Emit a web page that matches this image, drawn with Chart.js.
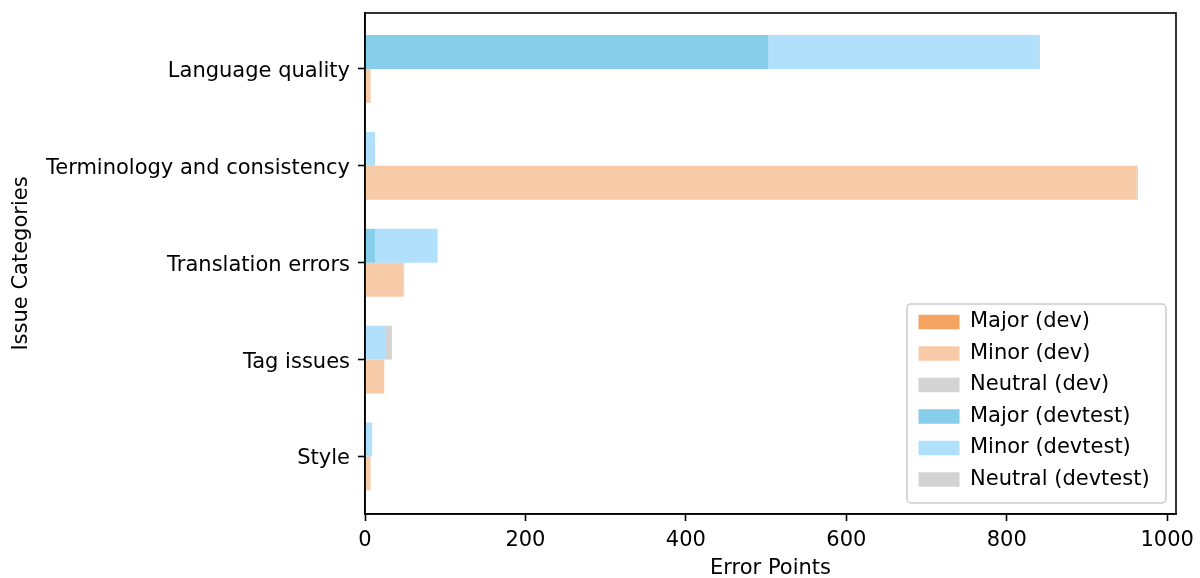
<!DOCTYPE html>
<html>
<head>
<meta charset="utf-8">
<script src="https://cdn.jsdelivr.net/npm/chart.js@4"></script>
<style>
  body { margin: 0; background: #fff; }
</style>
</head>
<body>
<canvas id="myChart" width="1200" height="578"></canvas>
<script>
// categories, top to bottom
const categories = ['Language quality', 'Terminology and consistency', 'Translation errors', 'Tag issues', 'Style'];

// error points per category
const devMajor = [0, 0, 0, 0, 0];
const devMinor = [7, 962, 48, 24, 7];
const devNeutral = [0, 1.5, 1, 0, 0];
const devtestMajor = [503, 0, 12.5, 0, 0];
const devtestMinor = [337, 12.5, 78, 26, 9];
const devtestNeutral = [1.5, 0, 0, 7.5, 0];

const xTicks = [0, 200, 400, 600, 800, 1000];

const FONT = 21;
Chart.defaults.font.family = "'DejaVu Sans', sans-serif";
Chart.defaults.font.size = FONT;
Chart.defaults.color = '#000';

const points = vals => vals.map((v, i) => ({ x: v, y: i }));

const series = (label, vals, color, stack) => ({
  label: label,
  data: points(vals),
  backgroundColor: color,
  borderWidth: 0,
  stack: stack
});

// devtest first so its bars sit above the dev bars
const datasets = [
  series('Major (devtest)', devtestMajor, '#87CEEB', 'devtest'),
  series('Minor (devtest)', devtestMinor, '#B1E0FD', 'devtest'),
  series('Neutral (devtest)', devtestNeutral, '#D3D3D3', 'devtest'),
  series('Major (dev)', devMajor, '#F4A460', 'dev'),
  series('Minor (dev)', devMinor, '#F7CBA7', 'dev'),
  series('Neutral (dev)', devNeutral, '#D3D3D3', 'dev')
];

// box around the plot and the legend frame
const framePlugin = {
  id: 'frame',
  afterLayout(chart) {
    const lg = chart.legend;
    lg.left = 908;
    lg.top = 301;
    lg.bottom = 570;
  },
  beforeDraw(chart) {
    const ctx = chart.ctx;
    const lg = chart.legend;
    const x = lg.left - 1, y = lg.top + 3, w = 259, h = 199;
    ctx.save();
    ctx.fillStyle = 'rgba(255,255,255,0.8)';
    ctx.strokeStyle = '#cccccc';
    ctx.lineWidth = 1.5;
    ctx.beginPath();
    ctx.roundRect(x, y, w, h, 4);
    ctx.fill();
    ctx.stroke();
    ctx.restore();
  },
  afterDatasetsDraw(chart) {
    const { ctx, chartArea: a } = chart;
    ctx.save();
    ctx.strokeStyle = '#000';
    ctx.lineWidth = 1.6;
    ctx.strokeRect(a.left, a.top, a.right - a.left, a.bottom - a.top);
    ctx.restore();
  }
};

new Chart(document.getElementById('myChart'), {
  type: 'bar',
  data: { datasets: datasets },
  plugins: [framePlugin],
  options: {
    indexAxis: 'y',
    responsive: false,
    animation: false,
    categoryPercentage: 0.7,
    barPercentage: 1,
    layout: { padding: { top: 13, right: 24, bottom: 0, left: 0 } },
    plugins: {
      tooltip: { enabled: false },
      legend: {
        position: 'chartArea',
        align: 'start',
        labels: {
          boxWidth: 41,
          boxHeight: 14.5,
          padding: 10.5,
          color: '#000',
          font: { size: FONT },
          sort: (a, b) => ((a.datasetIndex + 3) % 6) - ((b.datasetIndex + 3) % 6)
        }
      }
    },
    scales: {
      x: {
        type: 'linear',
        stacked: true,
        min: 0,
        max: 1011,
        afterFit: s => { s.height = 64; s.paddingLeft = 0; s.paddingRight = 0; },
        afterBuildTicks: s => { s.ticks = xTicks.map(v => ({ value: v })); },
        ticks: { padding: 7, color: '#000', maxRotation: 0, callback: v => String(v) },
        grid: { drawOnChartArea: false, tickLength: 7, tickWidth: 1.6, tickColor: '#000' },
        border: { display: true, color: '#000', width: 1.6 },
        title: { display: true, text: 'Error Points', color: '#000', padding: { top: 0, bottom: -3 } }
      },
      y: {
        type: 'linear',
        reverse: true,
        stacked: true,
        offset: false,
        min: -0.578,
        max: 4.594,
        afterFit: s => { s.width = 365; s.paddingTop = 0; s.paddingBottom = 0; },
        afterBuildTicks: s => { s.ticks = categories.map((c, i) => ({ value: i })); },
        ticks: { padding: 8, labelOffset: 2.5, color: '#000', callback: v => categories[v] },
        grid: { offset: false, drawOnChartArea: false, tickLength: 7, tickWidth: 1.6, tickColor: '#000' },
        border: { display: true, color: '#000', width: 1.6 },
        title: { display: true, text: 'Issue Categories', color: '#000', padding: { top: 9, bottom: 0 } }
      }
    }
  }
});
</script>
</body>
</html>
